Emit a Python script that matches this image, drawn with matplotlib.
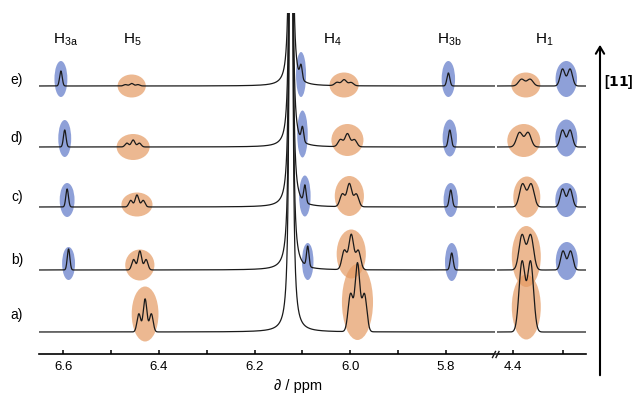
import numpy as np
import matplotlib
matplotlib.use("Agg")
import matplotlib.pyplot as plt
from matplotlib.patches import Ellipse, FancyArrowPatch
from matplotlib.lines import Line2D
from matplotlib.transforms import blended_transform_factory

# traces a) .. e), baseline height of each trace (px above the axis)
trace_labels = ["a)", "b)", "c)", "d)", "e)"]
baseline = [22, 84, 147, 207, 268]

# strong singlet at ~6.12 ppm (off scale)
big_ppm = 6.124
big_int = [6000, 6000, 6000, 6000, 6000]
big_hwhm = [0.00095, 0.0009, 0.00085, 0.0008, 0.0008]

# signal positions (ppm) and heights (px) for a) .. e); None = absent
h3a_ppm = [None, 6.589, 6.592, 6.597, 6.605]
h3a_int = [0, 21, 18, 17, 15]
h5_ppm = [6.429, 6.440, 6.446, 6.454, 6.457]
h5_int = [33, 19, 12, 7, 2.5]
hx_ppm = [None, 6.089, 6.095, 6.100, 6.103]
hx_int = [0, 20, 17, 14, 13]
h4_ppm = [5.985, 5.998, 6.002, 6.006, 6.013]
h4_int = [68, 35, 23, 13, 6]
h3b_ppm = [None, 5.788, 5.790, 5.792, 5.795]
h3b_int = [0, 17, 17, 17, 13]
h1_ppm = [4.374, 4.374, 4.373, 4.379, 4.375]
h1_int = [70, 35, 23, 14.5, 6.8]
h1b_ppm = [None, 4.293, 4.294, 4.294, 4.294]
h1b_int = [0, 19, 18, 17, 17]

# multiplet shape: relative line intensities, J (ppm), gaussian sigma (ppm)
shapes = {
    "h3a": ([1.0], 0.0, 0.0027),
    "h5": ([0.55, 1.0, 0.55], 0.013, 0.0038),
    "hx": ([1.0], 0.0, 0.0025),
    "h4": ([0.55, 1.0, 0.55], 0.0145, 0.005),
    "h3b": ([1.0], 0.0, 0.003),
    "h1": ([1.0, 1.0], 0.017, 0.006),
    "h1b": ([1.0, 1.0], 0.015, 0.0048),
}
signals = {
    "h3a": (h3a_ppm, h3a_int),
    "h5": (h5_ppm, h5_int),
    "hx": (hx_ppm, hx_int),
    "h4": (h4_ppm, h4_int),
    "h3b": (h3b_ppm, h3b_int),
    "h1": (h1_ppm, h1_int),
    "h1b": (h1b_ppm, h1b_int),
}

# highlight ellipses: width (ppm), height (px), centre above baseline (px)
BLUE = "#5F78C8"
ORANGE = "#E59B63"
highlights = {
    "h3a": (BLUE, [0, 0.027, 0.031, 0.027, 0.027], [0, 33, 34, 37, 36], [0, 6.5, 7, 8.5, 7]),
    "h5": (ORANGE, [0.056, 0.061, 0.065, 0.069, 0.059], [55, 31, 24, 26, 23], [18, 5, 2.5, 0, 0]),
    "hx": (BLUE, [0, 0.024, 0.024, 0.022, 0.021], [0, 37, 41, 47, 45], [0, 8.5, 11, 13, 11.5]),
    "h4": (ORANGE, [0.065, 0.061, 0.061, 0.067, 0.061], [76, 49, 40, 32, 25], [30, 16, 11, 7, 1]),
    "h3b": (BLUE, [0, 0.028, 0.030, 0.030, 0.028], [0, 38, 34, 37, 36], [0, 8, 7, 9, 7]),
    "h1": (ORANGE, [0.058, 0.058, 0.054, 0.066, 0.058], [65, 61, 41, 33, 25], [25, 13.5, 10, 6.5, 1]),
    "h1b": (BLUE, [0, 0.044, 0.044, 0.044, 0.043], [0, 38, 34, 37, 36], [0, 9, 7, 9, 7]),
}

top_labels = [("H$_{3a}$", 6.596), ("H$_5$", 6.456), ("H$_4$", 6.038), ("H$_{3b}$", 5.793)]
h1_label = ("H$_1$", 4.339)


def trace(x, i):
    y = np.full_like(x, baseline[i], dtype=float)
    g = big_hwhm[i]
    y += big_int[i] * g**2 / ((x - big_ppm) ** 2 + g**2)
    for name, (ppm, inten) in signals.items():
        if ppm[i] is None:
            continue
        rel, J, sig = shapes[name]
        n = len(rel)
        for k, r in enumerate(rel):
            pos = ppm[i] + (k - (n - 1) / 2) * J
            y += inten[i] * r * np.exp(-((x - pos) ** 2) / (2 * sig**2))
    return y


def main():
    plt.rcParams["font.family"] = ["Liberation Sans", "DejaVu Sans"]
    plt.rcParams["mathtext.default"] = "regular"

    fig = plt.figure(figsize=(6.36, 3.94), dpi=100)
    W, H = 636, 394
    bottom = 1 - 354 / H
    height = (354 - 13) / H
    axL = fig.add_axes([39 / W, bottom, 456 / W, height])
    axR = fig.add_axes([497 / W, bottom, 89 / W, height])
    limL = (6.6508, 5.6975)
    limR = (4.4326, 4.2546)

    for ax, lim in ((axL, limL), (axR, limR)):
        ax.set_xlim(*lim)
        ax.set_ylim(0, 341)
        for s in ("top", "left", "right"):
            ax.spines[s].set_visible(False)
        ax.spines["bottom"].set_linewidth(1.2)
        ax.set_yticks([])
        ax.tick_params(axis="x", which="both", direction="in", length=3,
                       width=1.1, labelsize=9.5, pad=5)
        ax.patch.set_alpha(0)

        x = np.linspace(lim[0], lim[1], 12000)
        for i in range(5):
            ax.plot(x, trace(x, i), color="#1a1a1a", lw=0.9, zorder=3)
            for name, (col, ew, eh, edy) in highlights.items():
                ppm = signals[name][0][i]
                if ppm is None or not (lim[1] < ppm < lim[0]):
                    continue
                ax.add_patch(Ellipse((ppm, baseline[i] + edy[i]), ew[i], eh[i],
                                     facecolor=col, edgecolor="none", alpha=0.7, zorder=1))

    axL.set_xticks([6.6, 6.4, 6.2, 6.0, 5.8])
    axL.set_xticklabels(["6.6", "6.4", "6.2", "6.0", "5.8"])
    axL.set_xticks([6.5, 6.3, 6.1, 5.9], minor=True)
    axR.set_xticks([4.4])
    axR.set_xticklabels(["4.4"])
    axR.set_xticks([4.3], minor=True)

    # axis break marks
    for x0 in (492.5, 496.0):
        fig.add_artist(Line2D([x0 / W, (x0 + 3) / W], [1 - 357.5 / H, 1 - 351.5 / H],
                              transform=fig.transFigure, color="#1a1a1a", lw=1.0))

    # proton labels
    tL = blended_transform_factory(axL.transData, fig.transFigure)
    for txt, xp in top_labels:
        axL.text(xp, 1 - 40 / H, txt, transform=tL, ha="center", va="center", fontsize=11)
    tR = blended_transform_factory(axR.transData, fig.transFigure)
    axR.text(h1_label[1], 1 - 40 / H, h1_label[0], transform=tR, ha="center",
             va="center", fontsize=11)

    # trace labels
    lab_dy = [17, 10, 10, 9, 6]
    tT = blended_transform_factory(fig.transFigure, axL.transData)
    for i, lab in enumerate(trace_labels):
        axL.text(17 / W, baseline[i] + lab_dy[i], lab, transform=tT, ha="center",
                 va="center", fontsize=10)

    fig.text(298 / W, 1 - 386 / H, "∂ / ppm", ha="center", va="center", fontsize=10.5)

    # titration arrow
    fig.add_artist(FancyArrowPatch(
        (600 / W, 1 - 378 / H), (600 / W, 1 - 42 / H), transform=fig.transFigure,
        arrowstyle="->,head_length=5,head_width=3", lw=1.5, color="black",
        mutation_scale=1))
    fig.text(634 / W, 1 - 82 / H, r"[$\mathbf{11}$]", ha="right", va="center",
             fontsize=10, fontweight="bold")

    fig.savefig("out.png", dpi=100)


if __name__ == "__main__":
    main()
